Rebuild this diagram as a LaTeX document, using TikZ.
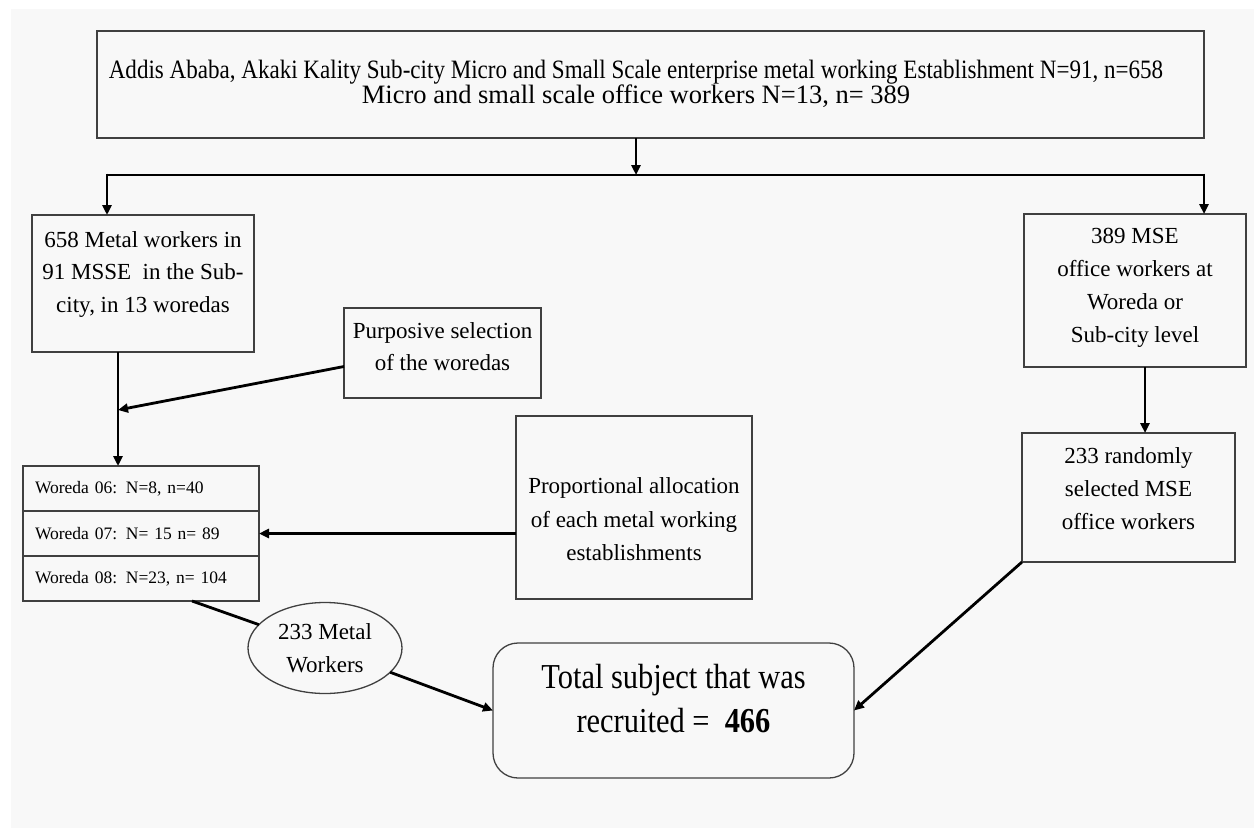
\documentclass[tikz,border=0pt]{standalone}
\usepackage{fontspec}
\setmainfont{Liberation Serif}
\newfontfamily\narrowserif[FakeStretch=0.87]{Liberation Serif}
\usetikzlibrary{arrows.meta,shapes.geometric,calc}
\definecolor{bgc}{HTML}{F8F8F8}
\definecolor{edge}{HTML}{404040}
% #1 width, #2 height, #3 top skip, #4 font size, #5 line spacing, #6 text
\newcommand{\bxt}[6]{\parbox[c][#2][t]{#1}{\centering\fontsize{#4}{#5}\selectfont\vspace*{#3}#6\par}}
\begin{document}
\begin{tikzpicture}[x=1pt,y=-1pt,
  box/.style={draw=edge, line width=1.3pt, inner sep=0pt, outer sep=0pt, anchor=north west},
  row/.style={box, minimum width=236pt, minimum height=45pt, text width=212pt,
    inner xsep=12pt, align=left, font=\fontsize{17.5}{20}\selectfont},
  conn/.style={line width=2.8pt, black},
  arr/.style={conn, -{Triangle[length=10pt,width=9pt]}}]
\useasboundingbox (0,0) rectangle (1254,830);
\fill[white] (0,0) rectangle (1254,830);
\fill[bgc] (11,9) rectangle (1254,828);

\node[box] (top) at (97,31) {\bxt{1078pt}{107pt}{29pt}{26.5}{25}{{\narrowserif Addis Ababa, Akaki Kality Sub-city Micro and Small Scale enterprise metal working Establishment N=91, n=658}\\Micro and small scale office workers N=13, n= 389}\hspace*{29pt}};

\node[box] (metal) at (32,215) {\bxt{222pt}{137pt}{16.3pt}{23}{32.5}{658 Metal workers in\\91 MSSE\ \ in the Sub-\\city, in 13 woredas}};

\node[box] (purp) at (344,308) {\bxt{197pt}{90pt}{14.3pt}{23}{32}{Purposive selection\\of the woredas}};

\node[row] (w06) at (23,466) {Woreda 06: N=8, n=40};
\node[row] (w07) at (w06.south west) {Woreda 07: N= 15 n= 89};
\node[row] (w08) at (w07.south west) {Woreda 08: N=23, n= 104};

\node[box] (prop) at (516,416) {\bxt{236pt}{183pt}{62pt}{23}{33.5}{Proportional allocation\\of each metal working\\establishments}};

\node[draw=edge, line width=1.3pt, ellipse, minimum width=154pt, minimum height=91pt,
  inner sep=0pt, outer sep=0pt, align=center, font=\fontsize{23}{33}\selectfont] (ell) at (325,648) {233 Metal\\Workers};

\node[box, rounded corners=25pt] (total) at (493,643) {\bxt{361pt}{135pt}{21pt}{35}{44}{\narrowserif Total subject that was\\recruited =\ \ \textbf{466}}};

\node[box] (mse) at (1024,214) {\bxt{222pt}{153pt}{14.3pt}{23}{33}{389 MSE\\office workers at\\Woreda or\\Sub-city level}};

\node[box] (rnd) at (1022,433) {\bxt{213pt}{129pt}{14.3pt}{23}{33}{233 randomly\\selected MSE\\office workers}};

% connectors
\coordinate (hl) at (107,175);
\coordinate (hr) at (1204,175);
\coordinate (tx) at (636,175);
\coordinate (mx) at (118,0);
\coordinate (pj) at (118,410);
\coordinate (rx) at (1145,0);

\draw[arr] (top.south -| tx) -- (tx);
\draw[conn] (hl) -- (hr);
\draw[arr] ([yshift=1.4pt]hl) -- (hl |- metal.north);
\draw[arr] ([yshift=1.4pt]hr) -- (hr |- mse.north);
\draw[arr] (metal.south -| mx) -- (mx |- w06.north);
\draw[arr] ($(purp.south west)!0.35!(purp.north west)$) -- (pj);
\draw[arr] (prop.west |- w07.east) -- (w07.east);
\draw[conn] (w08.south -| 192,0) -- (ell);
\draw[arr] (ell) -- (total.west);
\draw[arr] (mse.south -| rx) -- (rx |- rnd.north);
\draw[arr] (rnd.south west) -- (total.east);
\end{tikzpicture}
\end{document}
